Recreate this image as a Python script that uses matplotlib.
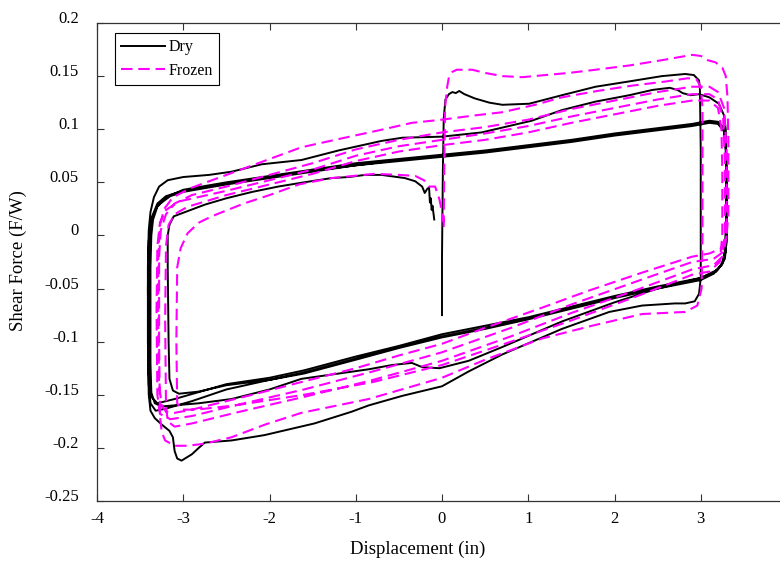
import matplotlib.pyplot as plt
from matplotlib.transforms import ScaledTranslation

# Dry test: (displacement in, shear force F/W) vertices
dry_loop1 = [(0.00, -0.075), (0.00, -0.02), (0.01, 0.06), (0.02, 0.11), (0.04, 0.128), (0.08, 0.133),
             (0.12, 0.135), (0.16, 0.134), (0.20, 0.136), (0.26, 0.133), (0.38, 0.129), (0.55, 0.125),
             (0.70, 0.123), (1.01, 0.124), (1.39, 0.132), (1.78, 0.140), (2.17, 0.145), (2.55, 0.150),
             (2.82, 0.152), (2.92, 0.151), (2.98, 0.146), (2.99, 0.139), (3.00, 0.08), (3.00, 0.0),
             (3.00, -0.04), (2.98, -0.055), (2.93, -0.062), (2.82, -0.064), (2.70, -0.064), (2.32, -0.066),
             (1.94, -0.072), (1.39, -0.088), (0.70, -0.112), (0.31, -0.128), (0.00, -0.142), (-0.46, -0.151),
             (-0.85, -0.160), (-1.05, -0.166), (-1.48, -0.177), (-2.06, -0.188), (-2.44, -0.193), (-2.75, -0.195),
             (-2.82, -0.200), (-2.90, -0.206), (-2.96, -0.209), (-3.02, -0.212), (-3.07, -0.210), (-3.10, -0.203),
             (-3.12, -0.190), (-3.16, -0.184), (-3.25, -0.178), (-3.33, -0.172), (-3.38, -0.165), (-3.40, -0.150),
             (-3.41, -0.10), (-3.41, -0.03), (-3.40, 0.005), (-3.38, 0.022), (-3.34, 0.036), (-3.28, 0.046),
             (-3.18, 0.052), (-3.00, 0.055), (-2.70, 0.057), (-2.44, 0.060), (-2.09, 0.067), (-1.63, 0.071)]
dry_loop2 = [(-1.20, 0.080), (-0.70, 0.089), (-0.46, 0.092), (0.00, 0.093), (0.46, 0.097), (1.04, 0.108),
             (1.39, 0.118), (1.78, 0.126), (2.17, 0.132), (2.44, 0.137), (2.64, 0.139), (2.73, 0.137),
             (2.79, 0.134), (2.88, 0.132), (2.98, 0.133), (3.10, 0.130), (3.21, 0.124), (3.27, 0.113),
             (3.29, 0.100), (3.30, 0.06), (3.30, 0.0), (3.29, -0.015), (3.25, -0.027), (3.15, -0.035),
             (3.00, -0.040), (2.50, -0.050), (2.00, -0.063), (1.39, -0.081), (0.70, -0.105), (0.31, -0.118),
             (-0.03, -0.125), (-0.23, -0.124), (-0.35, -0.120), (-0.58, -0.122), (-0.85, -0.126), (-1.63, -0.135),
             (-2.00, -0.145), (-2.44, -0.154), (-2.82, -0.158), (-3.10, -0.160), (-3.25, -0.161), (-3.33, -0.158),
             (-3.37, -0.148), (-3.38, -0.12), (-3.38, -0.03), (-3.37, 0.0), (-3.35, 0.015), (-3.30, 0.027),
             (-3.20, 0.036), (-3.00, 0.043)]
dry_loop3 = [(-2.50, 0.050), (-2.00, 0.056), (-1.50, 0.062), (-1.00, 0.068), (-0.50, 0.072), (0.00, 0.076),
             (0.50, 0.080), (1.00, 0.085), (1.50, 0.090), (2.00, 0.096), (2.50, 0.101), (2.90, 0.105),
             (3.10, 0.108), (3.20, 0.107), (3.26, 0.102), (3.29, 0.090), (3.30, 0.05), (3.30, -0.005),
             (3.28, -0.022), (3.20, -0.032), (3.00, -0.040), (2.50, -0.048), (2.00, -0.057), (1.40, -0.069),
             (1.00, -0.077), (0.50, -0.085), (0.00, -0.093), (-0.50, -0.104), (-1.00, -0.114), (-1.60, -0.127),
             (-2.00, -0.134), (-2.50, -0.140), (-2.80, -0.147), (-3.10, -0.154), (-3.30, -0.158), (-3.37, -0.152),
             (-3.40, -0.13), (-3.40, -0.04), (-3.39, 0.0), (-3.36, 0.018), (-3.30, 0.030), (-3.20, 0.037),
             (-3.00, 0.042)]
dry_loop4 = [(-2.50, 0.049), (-2.00, 0.055), (-1.50, 0.061), (-1.00, 0.066), (-0.50, 0.071), (0.00, 0.075),
             (0.50, 0.079), (1.00, 0.084), (1.50, 0.089), (2.00, 0.095), (2.50, 0.100), (2.90, 0.104),
             (3.10, 0.107), (3.20, 0.106), (3.27, 0.100), (3.29, 0.085), (3.30, 0.04), (3.29, -0.01),
             (3.26, -0.025), (3.18, -0.034), (3.00, -0.041), (2.50, -0.049), (2.00, -0.058), (1.40, -0.070),
             (1.00, -0.078), (0.50, -0.087), (0.00, -0.095), (-0.50, -0.105), (-1.00, -0.116), (-1.60, -0.129),
             (-2.00, -0.136), (-2.50, -0.145), (-2.90, -0.156), (-3.20, -0.163), (-3.32, -0.165), (-3.38, -0.158),
             (-3.40, -0.14), (-3.41, -0.05), (-3.40, -0.005), (-3.37, 0.015), (-3.30, 0.028), (-3.15, 0.037),
             (-3.00, 0.041)]
dry_loop5 = [(-2.50, 0.048), (-2.00, 0.054), (-1.50, 0.060), (-1.00, 0.066), (-0.50, 0.070), (0.00, 0.074),
             (0.50, 0.078), (1.00, 0.083), (1.50, 0.088), (2.00, 0.094), (2.50, 0.099), (2.90, 0.103),
             (3.10, 0.106), (3.20, 0.105), (3.27, 0.098), (3.29, 0.080), (3.30, 0.03), (3.28, -0.015),
             (3.24, -0.028), (3.15, -0.036), (3.00, -0.042), (2.50, -0.050), (2.00, -0.059), (1.40, -0.071),
             (1.00, -0.079), (0.50, -0.088), (0.00, -0.096), (-0.50, -0.106), (-1.00, -0.117), (-1.60, -0.130),
             (-2.00, -0.136), (-2.50, -0.141), (-2.82, -0.147), (-3.05, -0.149), (-3.12, -0.146), (-3.16, -0.135),
             (-3.17, -0.10), (-3.18, -0.03), (-3.18, 0.0), (-3.16, 0.010), (-3.11, 0.018), (-2.98, 0.022)]
dry_end = [(-2.75, 0.029), (-2.50, 0.035), (-2.20, 0.041), (-1.90, 0.046), (-1.60, 0.050), (-1.28, 0.054),
           (-1.08, 0.055), (-0.89, 0.057), (-0.70, 0.057), (-0.43, 0.054), (-0.31, 0.051), (-0.23, 0.046),
           (-0.20, 0.040), (-0.17, 0.044), (-0.15, 0.045), (-0.14, 0.031), (-0.13, 0.035), (-0.12, 0.024),
           (-0.11, 0.028), (-0.09, 0.015)]

# Frozen test
frozen_loop1 = [(0.02, 0.008), (0.025, 0.06), (0.035, 0.12), (0.06, 0.140), (0.08, 0.149), (0.12, 0.154),
                (0.17, 0.156), (0.35, 0.156), (0.50, 0.153), (0.70, 0.150), (0.93, 0.149), (1.20, 0.151),
                (1.47, 0.153), (1.78, 0.156), (2.17, 0.160), (2.55, 0.165), (2.90, 0.170), (3.00, 0.169),
                (3.08, 0.165), (3.17, 0.163), (3.25, 0.158), (3.29, 0.150), (3.31, 0.130), (3.32, 0.09),
                (3.32, 0.02), (3.30, 0.0), (3.24, -0.012), (3.10, -0.017), (2.90, -0.020), (2.32, -0.035),
                (1.70, -0.052), (1.16, -0.068), (0.50, -0.087), (0.00, -0.102), (-0.50, -0.113), (-1.00, -0.125),
                (-1.63, -0.138), (-2.20, -0.150), (-2.60, -0.158), (-2.90, -0.164), (-3.10, -0.167), (-3.20, -0.166),
                (-3.25, -0.160), (-3.28, -0.14), (-3.29, -0.08), (-3.29, -0.02), (-3.27, 0.010), (-3.22, 0.025),
                (-3.12, 0.036), (-2.90, 0.045)]
frozen_loop2 = [(-2.50, 0.057), (-2.00, 0.072), (-1.63, 0.083), (-1.24, 0.090), (-0.73, 0.099), (-0.35, 0.106),
                (0.00, 0.109), (0.38, 0.113), (0.70, 0.116), (1.08, 0.123), (1.39, 0.130), (1.80, 0.136),
                (2.20, 0.141), (2.60, 0.145), (2.85, 0.148), (2.95, 0.147), (3.00, 0.140), (3.02, 0.12),
                (3.02, 0.0), (3.01, -0.05), (2.96, -0.066), (2.82, -0.072), (2.32, -0.074), (1.74, -0.085),
                (1.16, -0.097), (0.50, -0.117), (0.00, -0.134), (-0.85, -0.154), (-1.63, -0.167), (-2.05, -0.178),
                (-2.44, -0.190), (-2.75, -0.196), (-2.95, -0.198), (-3.10, -0.198), (-3.21, -0.193), (-3.25, -0.185),
                (-3.27, -0.17), (-3.28, -0.10), (-3.28, -0.02), (-3.26, 0.005), (-3.20, 0.020), (-3.10, 0.030),
                (-2.90, 0.038)]
frozen_loop3 = [(-2.50, 0.046), (-2.00, 0.057), (-1.50, 0.068), (-1.00, 0.081), (-0.50, 0.090), (0.00, 0.097),
                (0.50, 0.102), (1.00, 0.109), (1.50, 0.119), (2.00, 0.127), (2.50, 0.135), (2.90, 0.140),
                (3.10, 0.140), (3.20, 0.135), (3.27, 0.120), (3.30, 0.08), (3.30, 0.0), (3.27, -0.015),
                (3.15, -0.022), (2.90, -0.025), (2.30, -0.042), (1.50, -0.065), (0.80, -0.087), (0.00, -0.110),
                (-0.80, -0.128), (-1.60, -0.145), (-2.40, -0.160), (-2.90, -0.170), (-3.15, -0.173), (-3.27, -0.168),
                (-3.30, -0.15), (-3.31, -0.07), (-3.30, -0.01), (-3.27, 0.012), (-3.20, 0.024), (-3.05, 0.032)]
frozen_loop4 = [(-2.50, 0.042), (-2.00, 0.052), (-1.50, 0.062), (-1.00, 0.075), (-0.50, 0.084), (0.00, 0.090),
                (0.50, 0.096), (1.00, 0.103), (1.50, 0.112), (2.00, 0.120), (2.50, 0.128), (2.90, 0.133),
                (3.10, 0.133), (3.20, 0.128), (3.26, 0.110), (3.28, 0.07), (3.28, 0.0), (3.25, -0.020),
                (3.15, -0.028), (2.90, -0.032), (2.30, -0.050), (1.50, -0.073), (0.80, -0.095), (0.00, -0.118),
                (-0.80, -0.136), (-1.60, -0.152), (-2.40, -0.167), (-2.90, -0.177), (-3.10, -0.180), (-3.18, -0.175),
                (-3.20, -0.16), (-3.21, -0.08), (-3.20, -0.01), (-3.17, 0.010), (-3.10, 0.020), (-2.95, 0.027)]
frozen_loop5 = [(-2.50, 0.038), (-2.00, 0.048), (-1.50, 0.058), (-1.00, 0.070), (-0.50, 0.079), (0.00, 0.085),
                (0.50, 0.090), (1.00, 0.097), (1.50, 0.106), (2.00, 0.114), (2.50, 0.122), (2.90, 0.127),
                (3.10, 0.127), (3.20, 0.120), (3.24, 0.100), (3.25, 0.06), (3.25, 0.0), (3.22, -0.025),
                (3.10, -0.034), (2.90, -0.037), (2.30, -0.056), (1.50, -0.080), (0.80, -0.100), (0.00, -0.122),
                (-0.80, -0.138), (-1.60, -0.150), (-2.40, -0.160), (-2.85, -0.164), (-3.02, -0.164), (-3.07, -0.158),
                (-3.08, -0.10), (-3.07, -0.03), (-3.03, -0.012), (-2.95, 0.002), (-2.82, 0.012)]
frozen_end = [(-2.67, 0.018), (-2.30, 0.030), (-2.00, 0.038), (-1.66, 0.048), (-1.28, 0.054), (-0.78, 0.058),
              (-0.50, 0.057), (-0.31, 0.056), (-0.21, 0.052), (-0.15, 0.046), (-0.08, 0.046), (-0.03, 0.034),
              (0.00, 0.022), (0.02, 0.012)]

dry = dry_loop1 + dry_loop2 + dry_loop3 + dry_loop4 + dry_loop5 + dry_end
frozen = frozen_loop1 + frozen_loop2 + frozen_loop3 + frozen_loop4 + frozen_loop5 + frozen_end

xticks = [-4, -3, -2, -1, 0, 1, 2, 3]
yticks = [0.2, 0.15, 0.1, 0.05, 0, -0.05, -0.1, -0.15, -0.2, -0.25]
ytick_labels = ['0.2', '0.15', '0.1', '0.05', '0', '-0.05', '-0.1', '-0.15', '-0.2', '-0.25']

plt.rcParams['font.family'] = ['Liberation Serif', 'DejaVu Serif']

fig = plt.figure(figsize=(7.8, 5.61), dpi=100)
# axes runs past the right edge of the picture, like the original crop
ax = fig.add_axes([97 / 780, 60 / 561, 690 / 780, 478 / 561])

ax.plot([p[0] for p in dry], [p[1] for p in dry], color='black', lw=1.4, label='Dry')
ax.plot([p[0] for p in frozen], [p[1] for p in frozen], color='#ff00ff', lw=1.5,
        dashes=(5.5, 2.8), label='Frozen')

ax.set_xlim(-4, 4)
ax.set_ylim(-0.25, 0.2)
ax.set_xticks(xticks)
ax.set_xticklabels([str(t) for t in xticks])
ax.set_yticks(yticks)
ax.set_yticklabels(ytick_labels)
ax.tick_params(direction='in', length=5, width=0.8, top=True, right=True, labelsize=12, color='#333333')
ax.tick_params(axis='x', pad=7)
ax.tick_params(axis='y', pad=13)
for lab in ax.get_yticklabels():
    lab.set_transform(lab.get_transform() + ScaledTranslation(0, 0.06, fig.dpi_scale_trans))
for s in ax.spines.values():
    s.set_linewidth(0.9)
    s.set_color('#333333')

ax.set_xlabel('Displacement (in)', fontsize=13.5)
ax.set_ylabel('Shear Force (F/W)', fontsize=13.5)
ax.xaxis.set_label_coords(0.465, -0.083)
ax.yaxis.set_label_coords(-0.102, 0.504)

leg = ax.legend(loc='upper left', bbox_to_anchor=(115 / 780, 1 - 33 / 561), bbox_transform=fig.transFigure,
                fontsize=11.5, handlelength=2.7, handletextpad=0.25, borderpad=0.4, labelspacing=0.45,
                fancybox=False, framealpha=1, edgecolor='black', borderaxespad=0)
leg.get_frame().set_linewidth(0.8)

fig.savefig('out.png', dpi=100)
